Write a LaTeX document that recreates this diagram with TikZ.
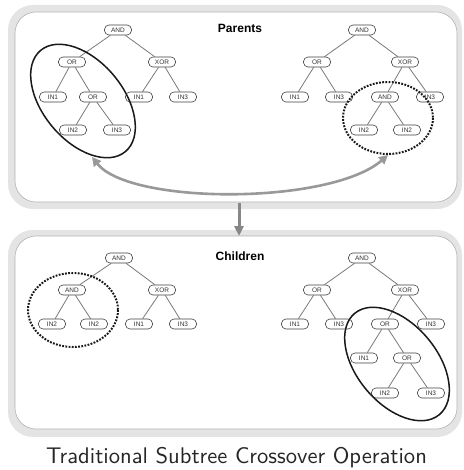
\documentclass[tikz,border=0pt]{standalone}
\usepackage{fontspec}
\newfontfamily\helv{Liberation Sans}
\newfontfamily\capfont{lmsans10-regular}[Extension=.otf]
\usetikzlibrary{arrows.meta}
\definecolor{panelgray}{HTML}{E4E4E4}
\definecolor{edgegray}{HTML}{7A7A7A}
\definecolor{arrowgray}{HTML}{999999}
\begin{document}
\begin{tikzpicture}[x=1pt,y=-1pt,
  tn/.style={draw=black!75, rounded corners=4.5pt, minimum width=27pt, minimum height=10pt,
    inner sep=0pt, font=\helv\fontsize{6.5}{7}\selectfont, text=black!80, fill=white, line width=0.6pt},
  ed/.style={draw=edgegray, line width=0.8pt},
  outerpanel/.style={fill=panelgray, rounded corners=25pt},
  innerpanel/.style={fill=white, draw=black!30, line width=0.6pt, rounded corners=21pt},
  ttl/.style={font=\helv\bfseries\fontsize{12}{14}\selectfont},
  solidell/.style={draw=black!90, line width=1.5pt},
  dotell/.style={draw=black!90, line width=2pt, dash pattern=on 1.8pt off 1.4pt},
  garrow/.style={draw=arrowgray, line width=2.6pt, {Triangle[length=9pt,width=9pt]}-{Triangle[length=9pt,width=9pt]}},
  darrow/.style={draw=edgegray!90, line width=3pt, -{Triangle[length=10pt,width=9pt]}}
]
\useasboundingbox (0,0) rectangle (463,470);
% panels
\fill[outerpanel] (8,5) rectangle (462,209);
\draw[innerpanel] (15,12) rectangle (457,202);
\fill[outerpanel] (8,230) rectangle (462,437);
\draw[innerpanel] (15,236) rectangle (457,429);
\node[ttl] (ptitle) at (240,28) {Parents};
\node[ttl] (ctitle) at (240,256) {Children};
% top-left tree
\node[tn] (a1) at (118,30) {AND};
\node[tn] (a2) at (72,62) {OR};
\node[tn] (a3) at (162,62) {XOR};
\node[tn] (a4) at (53,97) {IN1};
\node[tn] (a5) at (93,97) {OR};
\node[tn] (a6) at (139,97) {IN1};
\node[tn] (a7) at (183,97) {IN3};
\node[tn] (a8) at (73,130) {IN2};
\node[tn] (a9) at (117,130) {IN3};
\draw[ed] (a1)--(a2) (a1)--(a3) (a2)--(a4) (a2)--(a5) (a3)--(a6) (a3)--(a7) (a5)--(a8) (a5)--(a9);
% top-right tree
\node[tn] (b1) at (362,30) {AND};
\node[tn] (b2) at (317,62) {OR};
\node[tn] (b3) at (405,62) {XOR};
\node[tn] (b4) at (295,97) {IN1};
\node[tn] (b5) at (339,97) {IN3};
\node[tn] (b6) at (385,97) {AND};
\node[tn] (b7) at (430,97) {IN3};
\node[tn] (b8) at (364,130) {IN2};
\node[tn] (b9) at (407,130) {IN2};
\draw[ed] (b1)--(b2) (b1)--(b3) (b2)--(b4) (b2)--(b5) (b3)--(b6) (b3)--(b7) (b6)--(b8) (b6)--(b9);
% bottom-left tree
\node[tn] (c1) at (119,258) {AND};
\node[tn] (c2) at (72,290) {AND};
\node[tn] (c3) at (162,290) {XOR};
\node[tn] (c4) at (52,324) {IN2};
\node[tn] (c5) at (94,324) {IN2};
\node[tn] (c6) at (139,324) {IN1};
\node[tn] (c7) at (183,324) {IN3};
\draw[ed] (c1)--(c2) (c1)--(c3) (c2)--(c4) (c2)--(c5) (c3)--(c6) (c3)--(c7);
% bottom-right tree
\node[tn] (d1) at (362,258) {AND};
\node[tn] (d2) at (317,290) {OR};
\node[tn] (d3) at (405,290) {XOR};
\node[tn] (d4) at (295,324) {IN1};
\node[tn] (d5) at (339,324) {IN3};
\node[tn] (d6) at (385,324) {OR};
\node[tn] (d7) at (431,324) {IN3};
\node[tn] (d8) at (364,358) {IN1};
\node[tn] (d9) at (407,358) {OR};
\node[tn] (d10) at (385,393) {IN2};
\node[tn] (d11) at (431,393) {IN3};
\draw[ed] (d1)--(d2) (d1)--(d3) (d2)--(d4) (d2)--(d5) (d3)--(d6) (d3)--(d7) (d6)--(d8) (d6)--(d9) (d9)--(d10) (d9)--(d11);
% ellipses
\draw[solidell, rotate around={-50:(83,101)}] (83,101) ellipse [x radius=66, y radius=40];
\draw[dotell] (388,118) ellipse [x radius=45, y radius=36];
\draw[dotell] (73,310) ellipse [x radius=45, y radius=37];
\draw[solidell, rotate around={-50:(397,364)}] (397,364) ellipse [x radius=66, y radius=40];
% arrows
\coordinate (e1) at (92,157);
\coordinate (e2) at (388,155);
\draw[garrow] (e1) .. controls (130,205) and (330,205) .. (e2);
\coordinate (v1) at (239,203);
\coordinate (v2) at (239,236);
\draw[darrow] (v1) -- (v2);
% caption
\node[font=\capfont\fontsize{22.6}{26}\selectfont, text=black!85] (cap) at (236.5,458) {Traditional Subtree Crossover Operation};
\end{tikzpicture}
\end{document}
